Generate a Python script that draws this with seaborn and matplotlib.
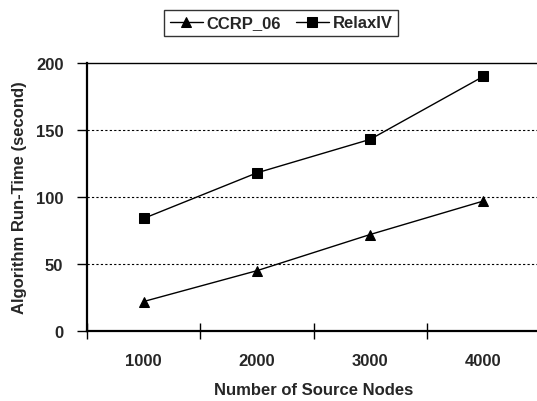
import matplotlib
matplotlib.use("Agg")
import matplotlib.pyplot as plt
import seaborn as sns
import pandas as pd

categories = ["1000", "2000", "3000", "4000"]
ccrp_06 = [22, 45, 72, 97]
relaxiv = [84, 118, 143, 190]
series_names = ["CCRP_06", "RelaxIV"]
y_ticks = [0, 50, 100, 150, 200]

sns.set_theme(style="white")
plt.rcParams['font.family'] = ['Liberation Sans', 'DejaVu Sans']
plt.rcParams['font.weight'] = 'bold'

FS = 12

df = pd.DataFrame({
    "x": categories * 2,
    "y": ccrp_06 + relaxiv,
    "series": [series_names[0]] * 4 + [series_names[1]] * 4,
})

fig = plt.figure(figsize=(5.37, 4.02), dpi=100)
ax = fig.add_axes([87/537, 1 - 332/402, 453/537, 268/402])

sns.lineplot(data=df, x="x", y="y", hue="series", style="series",
             markers={"CCRP_06": "^", "RelaxIV": "s"},
             dashes=False, palette={"CCRP_06": "black", "RelaxIV": "black"},
             markersize=7, linewidth=1.0, markeredgecolor="black",
             ax=ax, legend=True, sort=False)

ax.set_xlim(-0.5, 3.5)
ax.set_ylim(0, 200)
ax.set_yticks(y_ticks)
ax.set_xticks([-0.5, 0.5, 1.5, 2.5])
ax.set_xticklabels([])
ax.set_xticks(range(4), minor=True)
ax.set_xticklabels(categories, minor=True)
ax.tick_params(axis='x', which='major', direction='inout', length=12, width=1, color='black', bottom=True)
ax.tick_params(axis='x', which='minor', length=0, pad=16, labelsize=FS)
ax.tick_params(axis='y', direction='out', length=7, width=1, color='black', left=True, labelsize=FS, pad=10)

for lab in ax.get_xticklabels(minor=True) + ax.get_yticklabels():
    lab.set_fontweight('bold')

for v in [50, 100, 150]:
    ax.axhline(v, color='black', linestyle=(0, (2, 2)), linewidth=0.8, zorder=0)

for s in ['left', 'bottom']:
    ax.spines[s].set_color('black')
    ax.spines[s].set_linewidth(1.6)
ax.spines['top'].set_color('black')
ax.spines['top'].set_linewidth(1.0)
ax.spines['right'].set_visible(False)

ax.set_xlabel("Number of Source Nodes", fontsize=FS, fontweight='bold', labelpad=10)
ax.set_ylabel("Algorithm Run-Time (second)", fontsize=FS, fontweight='bold', labelpad=6)

handles, labels = ax.get_legend_handles_labels()
ax.get_legend().remove()
leg = fig.legend(handles, labels, loc='center', bbox_to_anchor=(281/537, 1 - 24/402),
                 ncol=2, frameon=True, fancybox=False, edgecolor='black',
                 prop={'weight': 'bold', 'size': FS},
                 handlelength=2.0, columnspacing=0.9, handletextpad=0.2,
                 borderpad=0.35, borderaxespad=0)
leg.get_frame().set_linewidth(1.0)

fig.savefig("out.png", dpi=100)
